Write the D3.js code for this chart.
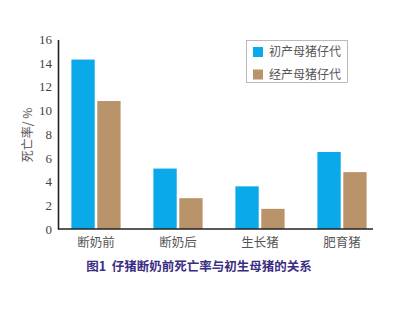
<!DOCTYPE html>
<html>
<head>
<meta charset="utf-8">
<script src="https://cdn.jsdelivr.net/npm/d3@7.9.0/dist/d3.min.js"></script>
<style>
  html, body { margin: 0; padding: 0; background: #fff; }
  svg { display: block; }
</style>
</head>
<body>
<div id="chart"></div>
<script>
// 데이터
const categories = ['断奶前', '断奶后', '生长猪', '肥育猪'];
const seriesNames = ['初产母猪仔代', '经产母猪仔代'];
const firstParity = [14.3, 5.1, 3.6, 6.5];
const multiParity = [10.8, 2.6, 1.7, 4.8];
const yTicks = [0, 2, 4, 6, 8, 10, 12, 14, 16];
const colors = ['#0aaaea', '#b99369'];

const width = 396, height = 318;
const svg = d3.select('#chart').append('svg')
  .attr('width', width).attr('height', height);

// 스케일
const x = d3.scaleBand()
  .domain(categories)
  .range([55, 383])
  .paddingInner(0).paddingOuter(0);

const x1 = d3.scaleBand()
  .domain(seriesNames)
  .range([x.bandwidth() * 0.2, x.bandwidth() * 0.8])
  .paddingInner(0.1);

const y = d3.scaleLinear().domain([0, 16]).range([229, 39.4]);

const rows = categories.map((c, i) => ({
  cat: c,
  vals: [firstParity[i], multiParity[i]]
}));

// 막대
const groups = svg.selectAll('g.grp')
  .data(rows)
  .join('g')
  .attr('class', 'grp')
  .attr('transform', d => `translate(${x(d.cat)},0)`);

groups.selectAll('rect')
  .data(d => d.vals.map((v, j) => ({ name: seriesNames[j], v, j })))
  .join('rect')
  .attr('x', d => x1(d.name))
  .attr('width', x1.bandwidth())
  .attr('y', d => y(d.v))
  .attr('height', d => y(0) - y(d.v))
  .attr('fill', d => colors[d.j]);

// Y축
const yAxis = svg.append('g')
  .attr('transform', 'translate(58,0)')
  .call(d3.axisLeft(y).tickValues(yTicks).tickSize(0).tickPadding(6));
yAxis.select('.domain').attr('stroke', '#222').attr('stroke-width', 1.6);
yAxis.selectAll('text')
  .attr('font-family', '"Liberation Serif", "DejaVu Serif", serif')
  .attr('font-size', 13)
  .attr('fill', '#444');

// X축
const xAxis = svg.append('g')
  .attr('transform', `translate(0,${y(0)})`)
  .call(d3.axisBottom(x).tickSize(0).tickPadding(9));
xAxis.select('.domain')
  .attr('d', `M58,0H373`)
  .attr('stroke', '#222').attr('stroke-width', 1.6);
xAxis.selectAll('text')
  .attr('font-family', '"Noto Sans CJK SC", sans-serif')
  .attr('font-size', 12.5)
  .attr('fill', '#555');

// Y축 제목
svg.append('text')
  .attr('transform', 'translate(32,135) rotate(-90)')
  .attr('text-anchor', 'middle')
  .attr('font-family', '"Noto Sans CJK SC", sans-serif')
  .attr('font-size', 12)
  .attr('fill', '#555')
  .text('死亡率/ %');

// 범례
const legend = svg.append('g');
legend.append('rect')
  .attr('x', 246.5).attr('y', 40.5)
  .attr('width', 101).attr('height', 42)
  .attr('fill', '#fff').attr('stroke', '#aaa').attr('stroke-width', 0.8);
const items = legend.selectAll('g.item')
  .data(seriesNames)
  .join('g')
  .attr('class', 'item')
  .attr('transform', (d, i) => `translate(253,${47 + i * 22.5})`);
items.append('rect')
  .attr('width', 10).attr('height', 10)
  .attr('fill', (d, i) => colors[i]);
items.append('text')
  .attr('x', 16).attr('y', 5)
  .attr('dy', '0.36em')
  .attr('font-family', '"Noto Sans CJK SC", sans-serif')
  .attr('font-size', 12)
  .attr('fill', '#555')
  .text(d => d);

// 캡션
svg.append('text')
  .attr('x', 199).attr('y', 270.5)
  .attr('text-anchor', 'middle')
  .attr('font-family', '"Noto Sans CJK SC", sans-serif')
  .attr('font-size', 12.5)
  .attr('font-weight', 'bold')
  .attr('fill', '#3b2d84')
  .text('图1\u00a0\u00a0仔猪断奶前死亡率与初生母猪的关系');
</script>
</body>
</html>
